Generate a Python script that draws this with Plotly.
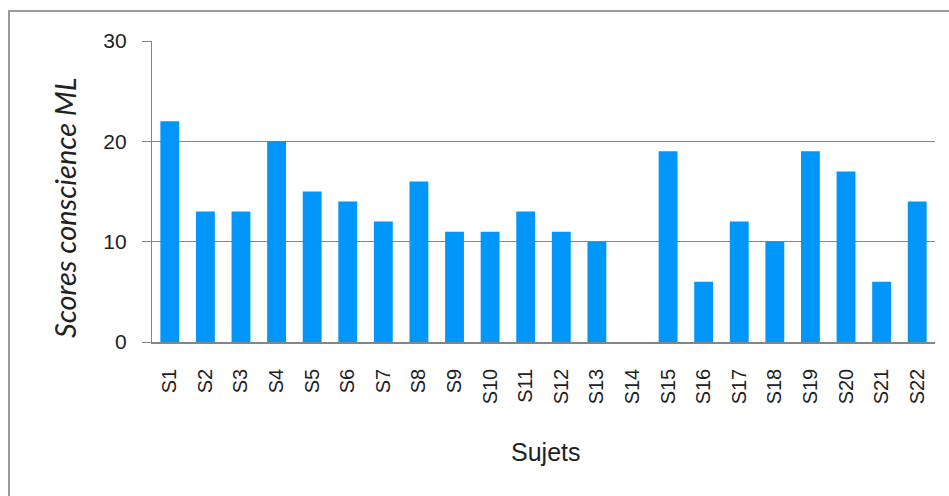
import plotly.graph_objects as go

subjects = [f"S{i}" for i in range(1, 23)]
scores = [22, 13, 13, 20, 15, 14, 12, 16, 11, 11, 13, 11, 10, 0, 19, 6, 12, 10, 19, 17, 6, 14]
y_ticks = [0, 10, 20, 30]

W, H = 949, 496
L, R, T, B = 152, 14, 41, 154
pw = W - L - R
ph = H - T - B

fig = go.Figure(go.Bar(x=subjects, y=scores, marker=dict(color="#0096FA", line=dict(width=0)),
                       width=0.53))

fig.update_layout(
    width=W, height=H,
    margin=dict(l=L, r=R, t=T, b=B),
    paper_bgcolor="white", plot_bgcolor="white",
    showlegend=False,
    font=dict(family="Liberation Sans, Arial, sans-serif", color="#222"),
    xaxis=dict(
        type="category", tickangle=-90, tickfont=dict(size=20, color="#222"),
        showline=True, linecolor="#858585", linewidth=1.5, ticks="", showgrid=False,
        ticklabelstandoff=17, range=[-0.5, 21.5],
    ),
    yaxis=dict(
        range=[0, 30], tickvals=y_ticks, tickfont=dict(size=21, color="#222"),
        showgrid=True, gridcolor="#858585", gridwidth=1.2,
        showline=True, linecolor="#858585", linewidth=1.2,
        ticks="outside", ticklen=9, tickcolor="#858585", tickwidth=1.2,
        ticklabelstandoff=11, zeroline=False,
    ),
    annotations=[
        dict(text="Sujets", xref="paper", yref="paper",
             x=(545 - L) / pw, y=-(452 - (T + ph)) / ph, showarrow=False,
             font=dict(size=25, color="#222"), xanchor="center", yanchor="middle"),
        dict(text="<i>Scores conscience ML</i>", xref="paper", yref="paper",
             x=(64 - L) / pw, y=1 - (208 - T) / ph, showarrow=False, textangle=-90,
             font=dict(size=29, family="Lato, Open Sans, sans-serif", color="#222"),
             xanchor="center", yanchor="middle"),
    ],
    shapes=[
        dict(type="rect", xref="paper", yref="paper",
             x0=(9 - L) / pw, x1=(W + 5 - L) / pw,
             y0=1 - (H + 5 - T) / ph, y1=1 - (11 - T) / ph,
             line=dict(color="#9a9a9a", width=2), fillcolor="rgba(0,0,0,0)", layer="below"),
    ],
)

fig.write_html("out.html")
